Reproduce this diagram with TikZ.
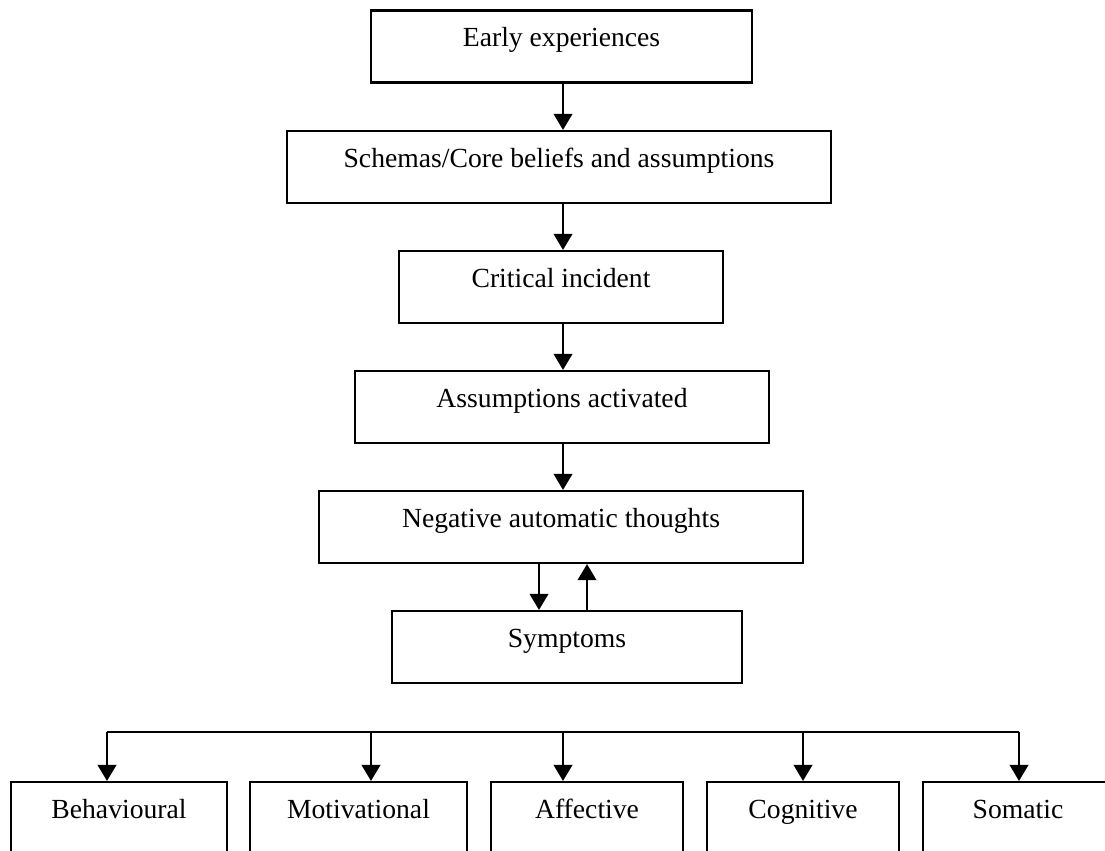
\documentclass[tikz,border=0pt]{standalone}
\usepackage{fontspec}
\setmainfont{Liberation Serif}
\usepackage{tikz}
\usetikzlibrary{arrows.meta}
\usetikzlibrary{calc}

\tikzset{
    boks/.style={draw, line width=0.9pt, inner sep=0pt, minimum height=31.25pt,
        text height=15.6pt, text depth=15.6pt, font=\fontsize{12}{14}\selectfont},
    pil/.style={line width=1.2pt, -{Triangle[length=7pt,width=8pt]}}
}

\begin{document}
\begin{tikzpicture}[x=0.434pt, y=-0.434pt]
        \useasboundingbox (0,0) rectangle (1105,850);
        \clip (0,0) rectangle (1105,850);
        \node [boks, minimum width=165.4pt] (early) at (561.5,46.5) {Early experiences};
        \node [boks, minimum width=236.1pt] (schema) at (559,167) {Schemas/Core beliefs and assumptions};
        \node [boks, minimum width=140.6pt] (incident) at (561,287) {Critical incident};
        \node [boks, minimum width=179.7pt] (activated) at (562,407) {Assumptions activated};
        \node [boks, minimum width=210.1pt] (nat) at (561,527) {Negative automatic thoughts};
        \node [boks, minimum width=151.9pt] (symptoms) at (567,647) {Symptoms};
        \node [boks, minimum width=93.7pt] (behav) at (119,818) {Behavioural};
        \node [boks, minimum width=94.2pt] (motiv) at (358.5,818) {Motivational};
        \node [boks, minimum width=83.3pt] (affect) at (587,818) {Affective};
        \node [boks, minimum width=83.3pt] (cogn) at (803,818) {Cognitive};
        \node [boks, minimum width=82.5pt] (somatic) at (1018,818) {Somatic};
        \coordinate (spine) at (563,0);
        \draw [pil] (early.south -| spine) -- (schema.north -| spine);
        \draw [pil] (schema.south -| spine) -- (incident.north -| spine);
        \draw [pil] (incident.south -| spine) -- (activated.north -| spine);
        \draw [pil] (activated.south -| spine) -- (nat.north -| spine);
        \coordinate (down) at (539,0);
        \coordinate (up) at (587,0);
        \draw [pil] (nat.south -| down) -- (symptoms.north -| down);
        \draw [pil] (symptoms.north -| up) -- (nat.south -| up);
        % fordeling till de fem delarna
        \coordinate (b1) at (107,732);
        \coordinate (b2) at (371,732);
        \coordinate (b3) at (563,732);
        \coordinate (b4) at (803,732);
        \coordinate (b5) at (1019,732);
        \draw [line width=0.8pt] (b1) -- (b5);
        \draw [pil] (b1) -- (b1 |- behav.north);
        \draw [pil] (b2) -- (b2 |- motiv.north);
        \draw [pil] (b3) -- (b3 |- affect.north);
        \draw [pil] (b4) -- (b4 |- cogn.north);
        \draw [pil] (b5) -- (b5 |- somatic.north);
    \end{tikzpicture}
\end{document}
